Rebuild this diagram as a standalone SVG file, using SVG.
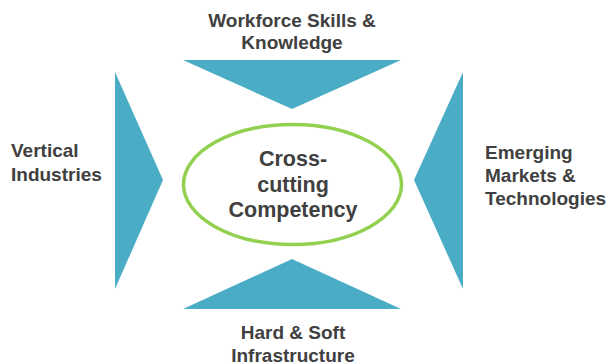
<svg xmlns="http://www.w3.org/2000/svg" width="608" height="364" viewBox="0 0 608 364">
<style>
.tri{fill:#4BACC6;}
.lbl{font-family:"Liberation Sans",Arial,sans-serif;font-weight:bold;font-size:19px;fill:#404040;}
.ctr{font-family:"Liberation Sans",Arial,sans-serif;font-weight:bold;font-size:21.5px;fill:#404040;}
</style>
<rect width="608" height="364" fill="#ffffff"/>
<g id="connectors">
<polygon id="tri-top" class="tri" points="183,60 401,60 292,109"/>
<polygon id="tri-bottom" class="tri" points="183,309 401,309 292,259"/>
<polygon id="tri-left" class="tri" points="115,72 115,289 163,180"/>
<polygon id="tri-right" class="tri" points="463,72 463,289 414,180"/>
</g>
<g id="node-center">
<ellipse cx="292.5" cy="184.5" rx="109" ry="60" fill="none" stroke="#92D050" stroke-width="3.5"/>
<text class="ctr" text-anchor="middle" x="293" y="166">Cross-</text>
<text class="ctr" text-anchor="middle" x="293" y="191.5">cutting</text>
<text class="ctr" text-anchor="middle" x="293" y="217">Competency</text>
</g>
<g id="node-top">
<text class="lbl" text-anchor="middle" x="292" y="27">Workforce Skills &amp;</text>
<text class="lbl" text-anchor="middle" x="292" y="49">Knowledge</text>
</g>
<g id="node-bottom">
<text class="lbl" text-anchor="middle" x="293" y="339">Hard &amp; Soft</text>
<text class="lbl" text-anchor="middle" x="293" y="362">Infrastructure</text>
</g>
<g id="node-left">
<text class="lbl" x="11" y="157">Vertical</text>
<text class="lbl" x="11" y="181">Industries</text>
</g>
<g id="node-right">
<text class="lbl" x="485" y="159">Emerging</text>
<text class="lbl" x="485" y="182">Markets &amp;</text>
<text class="lbl" x="485" y="205">Technologies</text>
</g>
</svg>
